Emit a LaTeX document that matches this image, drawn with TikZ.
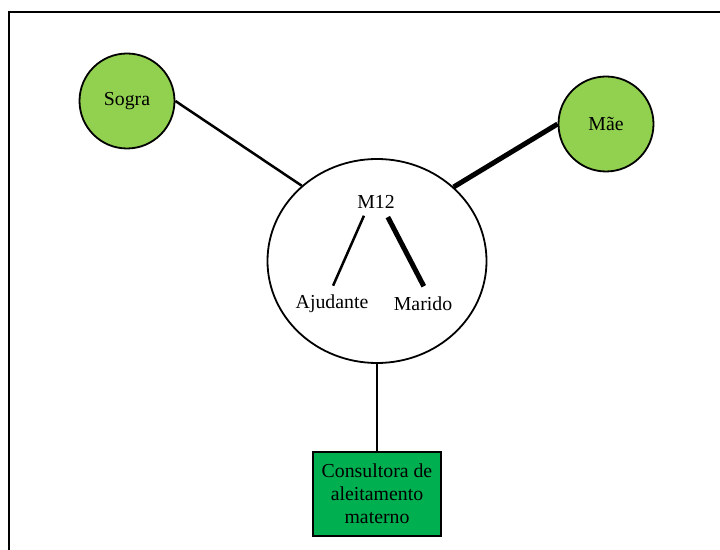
\documentclass[tikz,border=0pt]{standalone}
\usepackage{fontspec}
\setmainfont{Liberation Serif}
\usetikzlibrary{shapes.geometric}
\definecolor{leafgreen}{HTML}{92D050}
\definecolor{boxgreen}{HTML}{00B050}
\begin{document}
\begin{tikzpicture}[x=1bp,y=-1bp,
  every node/.style={font=\fontsize{19.8bp}{23bp}\selectfont},
  person/.style={circle,draw=black,line width=1.8bp,fill=leafgreen,minimum size=95bp,inner sep=0pt},
  hub/.style={ellipse,draw=black,line width=1.8bp,minimum width=219bp,minimum height=204bp,inner sep=0pt},
  service/.style={rectangle,draw=black,line width=1.8bp,fill=boxgreen,minimum width=128bp,minimum height=84bp,inner sep=0pt,align=center},
  plain/.style={inner sep=1bp},
  tie/.style={line width=2.5bp},
  strongtie/.style={line width=5bp}]
\useasboundingbox (0,0) rectangle (720,550);
% frame
\draw[line width=2.5bp] (9,551) -- (9,12) -- (721,12);
% nodes
\node[hub] (m) at (377,261) {};
\node[person] (sogra) at (127,101) {Sogra};
\node[person] (mae) at (606,124) {Mãe};
\node[service] (cons) at (377,494) {Consultora de\\aleitamento\\materno};
\node[plain] (m12) at (376,202) {M12};
\node[plain] (ajud) at (332,304) {Ajudante};
\node[plain] (marido) at (423,304) {Marido};
% ties
\draw[tie] (sogra.east) -- (m.135);
\draw[strongtie] (mae.west) -- (m.44);
\draw[tie] (m.south) -- (cons.north);
\draw[tie,shorten <=15bp,shorten >=20bp] ([xshift=-6bp]m12.center) -- ([xshift=-7bp]ajud.center);
\draw[strongtie,shorten <=17bp,shorten >=20bp] ([xshift=4bp]m12.center) -- ([xshift=10bp]marido.center);
\end{tikzpicture}
\end{document}
